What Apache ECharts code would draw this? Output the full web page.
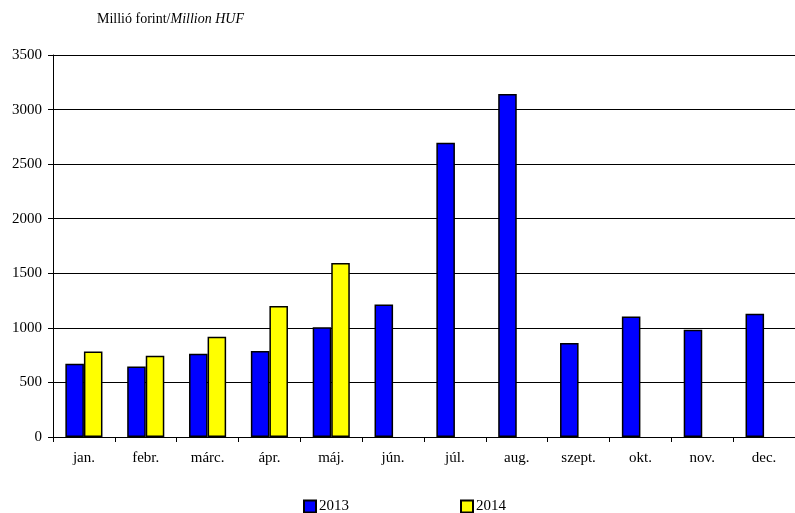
<!DOCTYPE html>
<html>
<head>
<meta charset="utf-8">
<script src="https://cdn.jsdelivr.net/npm/echarts@6/dist/echarts.min.js"></script>
<style>
  html, body { margin: 0; padding: 0; background: #fff; }
  #chart { width: 795px; height: 513px; }
</style>
</head>
<body>
<div id="chart"></div>
<script>
const months = ['jan.', 'febr.', 'márc.', 'ápr.', 'máj.', 'jún.', 'júl.', 'aug.', 'szept.', 'okt.', 'nov.', 'dec.'];
const values2013 = [671, 646, 762, 787, 1006, 1213, 2696, 3143, 861, 1104, 983, 1129];
const values2014 = [784, 744, 918, 1201, 1595, null, null, null, null, null, null, null];
const yTicks = [0, 500, 1000, 1500, 2000, 2500, 3000, 3500];

const font = 'Liberation Serif, Times New Roman, serif';

const chart = echarts.init(document.getElementById('chart'));
chart.setOption({
    animation: false,
    textStyle: { fontFamily: font },
    title: {
        left: 97,
        top: 12,
        padding: 0,
        text: '{n|Millió forint/}{i|Million HUF}',
        textStyle: {
            fontWeight: 'normal',
            rich: {
                n: { fontFamily: font, fontSize: 14, fontWeight: 'normal', color: '#000' },
                i: { fontFamily: font, fontSize: 14, fontWeight: 'normal', fontStyle: 'italic', color: '#000' }
            }
        }
    },
    legend: {
        top: 499,
        left: 303,
        padding: 0,
        itemGap: 111,
        itemWidth: 12,
        itemHeight: 12,
        icon: 'rect',
        textStyle: { fontFamily: font, fontSize: 15, color: '#000', padding: [0, 0, 0, -2] },
        data: ['2013', '2014']
    },
    grid: { left: 53, right: 0, top: 55, bottom: 76 },
    xAxis: {
        type: 'category',
        data: months,
        axisLine: { lineStyle: { color: '#000', width: 1 } },
        axisTick: { show: true, length: 5, lineStyle: { color: '#000' } },
        axisLabel: { color: '#000', fontSize: 15, fontFamily: font, margin: 14 }
    },
    yAxis: {
        type: 'value',
        min: yTicks[0],
        max: yTicks[yTicks.length - 1],
        interval: 500,
        axisLine: { show: true, lineStyle: { color: '#000', width: 1 } },
        axisTick: { show: true, length: 5, lineStyle: { color: '#000' } },
        axisLabel: { color: '#000', fontSize: 15, fontFamily: font, margin: 11, formatter: v => String(v) },
        splitLine: { lineStyle: { color: '#000', width: 1 } }
    },
    series: [
        {
            name: '2013',
            type: 'bar',
            data: values2013,
            barGap: '0%',
            barCategoryGap: '40%',
            itemStyle: { color: '#0000ff', borderColor: '#000', borderWidth: 1.5 }
        },
        {
            name: '2014',
            type: 'bar',
            data: values2014,
            itemStyle: { color: '#ffff00', borderColor: '#000', borderWidth: 1.5 }
        }
    ]
});
</script>
</body>
</html>
